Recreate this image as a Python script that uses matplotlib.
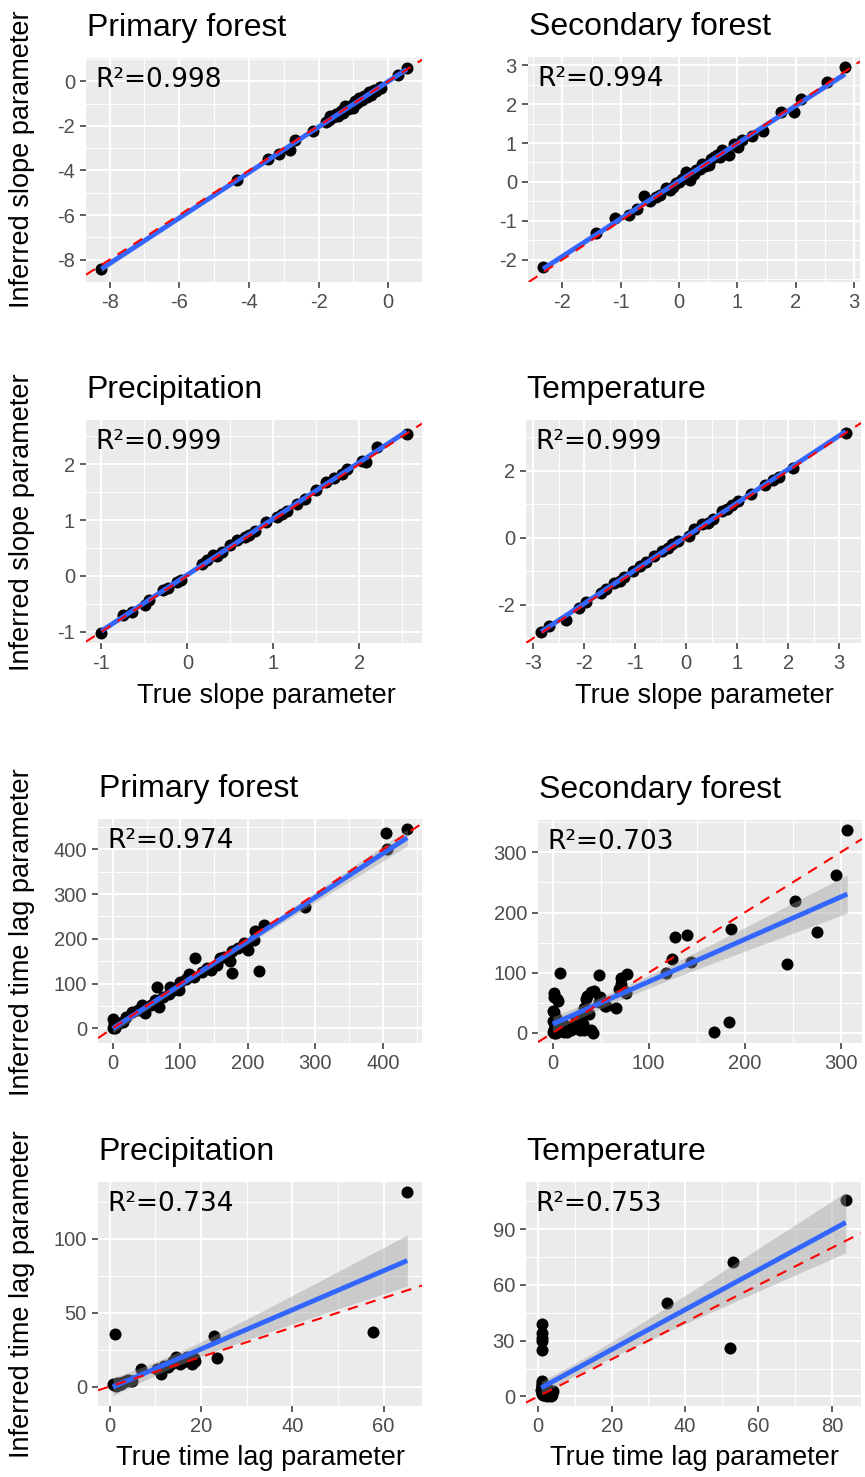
import numpy as np
import matplotlib
matplotlib.use("Agg")
import matplotlib.pyplot as plt

plt.rcParams["font.family"] = ["Liberation Sans", "DejaVu Sans"]
plt.rcParams["axes.unicode_minus"] = False

titles = ["Primary forest", "Secondary forest", "Precipitation", "Temperature",
          "Primary forest", "Secondary forest", "Precipitation", "Temperature"]
r2_labels = ["R²=0.998", "R²=0.994", "R²=0.999", "R²=0.999",
             "R²=0.974", "R²=0.703", "R²=0.734", "R²=0.753"]

# slope parameter: true vs inferred
pf_slope_true = [-8.24, -4.35, -3.44, -3.15, -2.81, -2.67, -2.16, -1.80, -1.70, -1.66,
                 -1.60, -1.50, -1.45, -1.35, -1.30, -1.25, -1.20, -1.15, -1.05, -1.00,
                 -0.95, -0.90, -0.85, -0.80, -0.75, -0.70, -0.60, -0.55, -0.50, -0.40,
                 -0.35, -0.25, -0.20, 0.29, 0.53]
pf_slope_inf = [-8.42, -4.42, -3.50, -3.27, -3.06, -2.65, -2.25, -1.84, -1.75, -1.55,
                -1.60, -1.45, -1.55, -1.35, -1.40, -1.10, -1.15, -1.25, -1.05, -1.20,
                -0.90, -0.95, -0.75, -0.80, -0.85, -0.65, -0.70, -0.50, -0.60, -0.40,
                -0.45, -0.25, -0.30, 0.27, 0.59]

sf_slope_true = [-2.33, -1.42, -1.09, -0.86, -0.72, -0.61, -0.50, -0.40, -0.33, -0.22,
                 -0.15, -0.10, -0.05, 0.00, 0.05, 0.12, 0.18, 0.25, 0.29, 0.35,
                 0.40, 0.45, 0.52, 0.55, 0.60, 0.65, 0.70, 0.74, 0.80, 0.85,
                 0.94, 1.01, 1.08, 1.25, 1.43, 1.75, 1.97, 2.09, 2.54, 2.84]
sf_slope_inf = [-2.18, -1.31, -0.92, -0.84, -0.69, -0.37, -0.50, -0.40, -0.33, -0.16,
                -0.20, -0.12, -0.02, 0.00, 0.08, 0.26, 0.05, 0.20, 0.30, 0.33,
                0.47, 0.40, 0.43, 0.60, 0.64, 0.70, 0.65, 0.81, 0.75, 0.69,
                0.98, 0.90, 1.07, 1.19, 1.30, 1.79, 1.80, 2.14, 2.57, 2.95]

pr_slope_true = [-1.00, -0.75, -0.64, -0.49, -0.45, -0.28, -0.22, -0.12, -0.07, 0.17,
                 0.23, 0.30, 0.35, 0.40, 0.50, 0.58, 0.67, 0.72, 0.79, 0.92,
                 1.04, 1.10, 1.16, 1.27, 1.37, 1.49, 1.61, 1.70, 1.80, 1.86,
                 2.03, 2.08, 2.21, 2.55]
pr_slope_inf = [-1.02, -0.70, -0.65, -0.52, -0.43, -0.26, -0.21, -0.11, -0.08, 0.22,
                0.28, 0.37, 0.36, 0.43, 0.55, 0.64, 0.70, 0.73, 0.81, 0.96,
                1.06, 1.10, 1.17, 1.28, 1.38, 1.53, 1.68, 1.76, 1.82, 1.91,
                2.06, 2.04, 2.30, 2.55]

tm_slope_true = [-2.84, -2.68, -2.36, -2.09, -1.96, -1.67, -1.57, -1.41, -1.30, -1.22,
                 -1.05, -0.90, -0.79, -0.63, -0.47, -0.35, -0.28, -0.15, 0.05, 0.15,
                 0.31, 0.42, 0.53, 0.70, 0.80, 0.89, 1.02, 1.28, 1.54, 1.70,
                 1.83, 2.09, 3.13]
tm_slope_inf = [-2.81, -2.64, -2.46, -2.10, -1.93, -1.66, -1.54, -1.36, -1.28, -1.17,
                -0.99, -0.85, -0.73, -0.53, -0.38, -0.30, -0.19, -0.09, 0.06, 0.25,
                0.40, 0.44, 0.55, 0.79, 0.86, 0.97, 1.09, 1.30, 1.58, 1.73,
                1.82, 2.09, 3.12]

# time lag parameter: true vs inferred
pf_lag_true = [436, 404, 406, 285, 224, 211, 216, 209, 200, 194,
               176, 174, 176, 159, 154, 145, 132, 122, 113, 108,
               100, 98, 85, 83, 65, 68, 63, 56, 48, 43,
               38, 28, 20, 9, 1, 0, 4, 2, 15, 75,
               90, 120, 140, 165, 185]
pf_lag_inf = [445, 437, 401, 270, 231, 217, 129, 198, 175, 191,
              173, 151, 123, 158, 141, 130, 125, 158, 121, 110,
              103, 86, 92, 77, 92, 48, 64, 51, 34, 53,
              42, 37, 25, 12, 20, 1, 0, 10, 15, 70,
              85, 115, 135, 160, 180]

sf_lag_true = [307, 295, 253, 275, 244, 186, 184, 168, 140, 127,
               124, 144, 118, 77, 71, 71, 69, 76, 74, 66,
               48, 43, 36, 49, 33, 38, 56, 40, 35, 48,
               55, 8, 1, 1, 6, 4, 0, 1, 0, 1,
               1, 0, 1, 11, 17, 19, 24, 28, 30, 32,
               33, 40, 42, 28, 2, 5, 10, 14, 20, 3,
               15, 22, 3, 8, 12]
sf_lag_inf = [337, 262, 219, 167, 114, 172, 18, 1, 162, 159,
              123, 118, 100, 98, 92, 81, 73, 67, 70, 42,
              97, 70, 62, 59, 42, 31, 45, 68, 56, 51,
              45, 99, 67, 59, 53, 56, 37, 34, 20, 18,
              7, 2, 0, 15, 7, 4, 23, 18, 31, 15,
              4, 4, 0, 4, 5, 10, 3, 12, 8, 25,
              2, 12, 0, 5, 2]

pr_lag_true = [65.2, 57.8, 1.1, 22.9, 23.6, 6.9, 11.2, 12.7, 14.5, 15.5,
               16.3, 17.4, 18.1, 18.8, 14.0, 0.7, 1.6, 3.6, 5.0, 1.4,
               2.5, 4.5, 1.0, 1.8, 2.2, 3.0, 4.0, 10.5, 12.0, 13.5,
               15.0, 16.0, 17.0, 18.5]
pr_lag_inf = [131.7, 36.7, 35.6, 34.0, 19.3, 11.6, 8.3, 12.9, 20.0, 15.0,
              18.0, 19.0, 15.0, 17.0, 17.0, 1.8, 2.5, 4.0, 4.0, 0.5,
              1.5, 3.5, 0.8, 1.2, 2.5, 2.8, 4.5, 12.0, 14.0, 15.5,
              18.5, 16.5, 20.0, 19.5]

tm_lag_true = [83.8, 53.2, 35.0, 52.3, 1.1, 1.1, 1.1, 1.1, 1.1, 1.1,
               0.9, 1.1, 1.1, 2.4, 3.4, 4.0, 2.7, 1.5, 0.8,
               1.0, 1.2, 1.3, 1.6, 1.8, 2.0, 2.2, 2.5, 2.8, 3.0,
               3.2, 3.6, 3.8, 1.0, 1.4, 1.9, 2.3, 2.6, 3.1, 3.5,
               0.9, 1.2, 1.7, 2.1, 2.9, 1.1, 1.5, 2.0, 2.4, 3.3]
tm_lag_inf = [106.0, 72.4, 50.5, 26.1, 39.0, 34.0, 31.5, 30.0, 25.2, 8.5,
              7.0, 5.1, 1.4, 1.4, 2.5, 3.0, 2.3, 0.5, 3.5,
              2.0, 4.2, 0.8, 3.0, 1.2, 2.6, 1.8, 0.6, 3.4, 1.6,
              2.9, 1.0, 2.2, 6.0, 4.8, 0.9, 3.7, 2.4, 1.3, 0.4,
              5.5, 2.8, 1.9, 4.0, 0.7, 3.2, 2.1, 1.5, 0.3, 2.7]

x_ticks = [[-8, -6, -4, -2, 0], [-2, -1, 0, 1, 2, 3], [-1, 0, 1, 2],
           [-3, -2, -1, 0, 1, 2, 3], [0, 100, 200, 300, 400], [0, 100, 200, 300],
           [0, 20, 40, 60], [0, 20, 40, 60, 80]]
y_ticks = [[-8, -6, -4, -2, 0], [-2, -1, 0, 1, 2, 3], [-1, 0, 1, 2],
           [-2, 0, 2], [0, 100, 200, 300, 400], [0, 100, 200, 300],
           [0, 50, 100], [0, 30, 60, 90]]

series = [(pf_slope_true, pf_slope_inf), (sf_slope_true, sf_slope_inf),
          (pr_slope_true, pr_slope_inf), (tm_slope_true, tm_slope_inf),
          (pf_lag_true, pf_lag_inf), (sf_lag_true, sf_lag_inf),
          (pr_lag_true, pr_lag_inf), (tm_lag_true, tm_lag_inf)]

W, H = 865, 1477
# panel boxes in pixels: left, top, right, bottom
boxes = [(86, 58, 422, 282), (528, 57, 860, 282),
         (86, 420, 422, 643), (526, 420, 861, 643),
         (98, 819, 422, 1043), (538, 820, 862, 1043),
         (98, 1182, 422, 1406), (526, 1182, 861, 1406)]


def minor_breaks(major, lo, hi):
    step = major[1] - major[0]
    mids = [major[0] - step / 2] + [m + step / 2 for m in major]
    return [m for m in mids if lo <= m <= hi]


def panel(ax, x, y, xt, yt, title, r2):
    x = np.asarray(x, float)
    y = np.asarray(y, float)
    n = len(x)
    b, a = np.polyfit(x, y, 1)
    xs = np.linspace(x.min(), x.max(), 80)
    fit = a + b * xs
    resid = y - (a + b * x)
    s = np.sqrt((resid ** 2).sum() / (n - 2))
    sxx = ((x - x.mean()) ** 2).sum()
    se = s * np.sqrt(1.0 / n + (xs - x.mean()) ** 2 / sxx)
    tq = 1.96 + 2.5 / (n - 2)
    lo, hi = fit - tq * se, fit + tq * se

    xr = x.max() - x.min()
    xlim = (x.min() - 0.05 * xr, x.max() + 0.05 * xr)
    ymin, ymax = min(y.min(), lo.min()), max(y.max(), hi.max())
    yr = ymax - ymin
    ylim = (ymin - 0.05 * yr, ymax + 0.05 * yr)

    ax.set_facecolor("#EBEBEB")
    for sp in ax.spines.values():
        sp.set_visible(False)
    ax.set_xlim(xlim)
    ax.set_ylim(ylim)
    ax.set_xticks(xt)
    ax.set_xticklabels([str(v) for v in xt])
    ax.set_yticks(yt)
    ax.set_yticklabels([str(v) for v in yt])
    ax.set_xticks(minor_breaks(xt, *xlim), minor=True)
    ax.set_yticks(minor_breaks(yt, *ylim), minor=True)
    ax.tick_params(which="minor", length=0)
    ax.tick_params(which="major", length=4, width=1.1, color="#333333",
                   labelsize=14.5, labelcolor="#4D4D4D", pad=4)
    ax.grid(which="major", color="white", lw=1.4)
    ax.grid(which="minor", color="white", lw=0.7)
    ax.set_axisbelow(True)

    ax.scatter(x, y, s=75, color="black", linewidths=0, zorder=2)
    ax.fill_between(xs, lo, hi, color="#999999", alpha=0.4, lw=0, zorder=3)
    ax.plot(xs, fit, color="#3366FF", lw=3.5, solid_capstyle="butt", zorder=4)
    ax.axline((0, 0), slope=1, color="red", lw=1.5, ls=(0, (5, 4)), zorder=5)

    ax.annotate(r2, xy=(0, 1), xycoords="axes fraction", xytext=(6.5, -16),
                textcoords="offset points", ha="left", va="center",
                fontsize=19, family="DejaVu Sans", color="black", zorder=6)
    ax.annotate(title, xy=(0, 1), xycoords="axes fraction", xytext=(0.5, 16),
                textcoords="offset points", ha="left", va="baseline",
                fontsize=23, color="black", annotation_clip=False)


fig = plt.figure(figsize=(W / 100, H / 100), dpi=100)
for i, (l, t, r, bt) in enumerate(boxes):
    ax = fig.add_axes([l / W, 1 - bt / H, (r - l) / W, (bt - t) / H])
    panel(ax, series[i][0], series[i][1], x_ticks[i], y_ticks[i], titles[i], r2_labels[i])

# axis titles
for label, yc in [("Inferred slope parameter", 159), ("Inferred slope parameter", 522),
                  ("Inferred time lag parameter", 932), ("Inferred time lag parameter", 1294)]:
    fig.text(22 / W, 1 - yc / H, label, rotation=90, ha="center", va="center", fontsize=19.5)
for label, xc, yb in [("True slope parameter", 266, 703), ("True slope parameter", 704, 703),
                      ("True time lag parameter", 261, 1465), ("True time lag parameter", 694, 1465)]:
    fig.text(xc / W, 1 - yb / H, label, ha="center", va="baseline", fontsize=19.5)

fig.savefig("out.png", dpi=100, facecolor="white")
